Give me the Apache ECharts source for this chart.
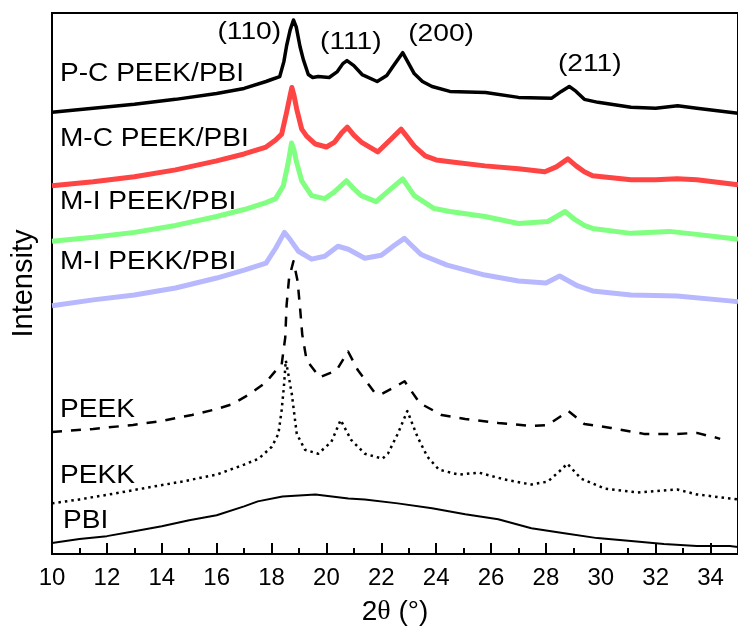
<!DOCTYPE html>
<html>
<head>
<meta charset="utf-8">
<script src="https://cdn.jsdelivr.net/npm/echarts@6/dist/echarts.min.js"></script>
<style>
  html, body { margin: 0; padding: 0; background: #fff; }
  #chart { width: 738px; height: 631px; }
</style>
</head>
<body>
<div id="chart"></div>
<script>
// XRD patterns, [2θ (°), intensity (a.u., stacked offsets included)]
const pcPeekPbi = [
  [10.0, 445], [11.5, 449], [13.0, 453], [14.5, 458], [16.0, 464], [17.0, 469],
  [17.8, 476], [18.0, 478], [18.3, 481], [18.45, 496], [18.55, 512], [18.68, 528],
  [18.8, 538], [18.9, 531], [19.04, 511], [19.16, 498], [19.34, 483], [19.5, 480],
  [19.7, 481], [20.1, 480], [20.4, 486], [20.6, 494], [20.75, 497], [21.0, 492],
  [21.3, 483], [21.85, 476], [22.2, 482], [22.45, 492], [22.78, 505], [23.0, 494],
  [23.2, 484], [23.5, 476], [23.85, 471], [24.5, 466], [25.8, 465], [27.0, 460],
  [28.2, 459], [28.56, 466], [28.85, 471], [29.1, 466], [29.4, 458], [29.9, 455],
  [31.1, 450], [32.0, 449], [32.8, 451.5], [33.5, 449], [34.7, 445], [35.0, 444]
];
const mcPeekPbi = [
  [10.0, 371], [11.5, 375], [13.0, 380], [14.5, 387], [16.0, 396], [17.0, 403],
  [17.8, 410], [18.15, 417], [18.37, 423], [18.55, 445], [18.67, 461], [18.74, 470],
  [18.82, 462], [18.92, 448], [19.1, 428], [19.28, 421], [19.6, 413], [20.0, 410],
  [20.3, 415], [20.55, 424], [20.76, 430], [21.0, 422], [21.27, 415], [21.87, 405],
  [22.36, 418], [22.72, 428], [22.95, 420], [23.2, 411], [23.6, 401], [24.0, 397],
  [24.58, 395], [25.78, 391], [27.0, 388], [27.96, 385], [28.38, 390], [28.8, 398],
  [29.1, 391], [29.4, 385], [29.7, 381], [31.1, 377], [32.0, 377], [32.78, 378],
  [33.5, 377], [34.7, 373], [35.0, 372]
];
const miPeekPbi = [
  [10.0, 315], [11.5, 319], [13.0, 324], [14.5, 331], [16.0, 340], [17.0, 347],
  [17.8, 354], [18.15, 358], [18.43, 371], [18.6, 393], [18.73, 414], [18.82, 407],
  [18.9, 396], [19.1, 376], [19.46, 361], [19.94, 358], [20.3, 365], [20.73, 376],
  [21.0, 368], [21.27, 361], [21.81, 355], [22.36, 368], [22.78, 378], [23.0, 369],
  [23.2, 361], [23.93, 348], [24.5, 345], [25.78, 340], [27.0, 333], [28.07, 335],
  [28.7, 345], [29.05, 337], [29.4, 331], [29.7, 328], [31.1, 323], [32.5, 325],
  [33.5, 322], [34.7, 318], [35.0, 317]
];
const miPekkPbi = [
  [10.0, 250], [11.5, 256], [13.0, 261], [14.5, 268], [16.0, 278], [17.0, 286],
  [17.8, 293], [18.15, 308], [18.47, 324], [18.7, 316], [18.98, 305], [19.46, 297],
  [19.94, 300], [20.42, 310], [20.8, 307], [21.4, 298], [22.0, 301], [22.48, 311],
  [22.84, 318], [23.1, 311], [23.44, 302], [23.6, 300], [24.4, 291], [25.78, 281],
  [27.0, 275], [28.0, 273], [28.5, 280], [29.16, 270], [29.7, 265], [31.1, 261],
  [32.78, 260], [34.7, 255], [35.0, 254]
];
const peek = [
  [10.0, 123], [11.5, 126], [12.95, 130], [14.0, 134], [15.1, 140], [16.0, 146],
  [16.57, 151], [17.2, 161], [17.8, 173], [18.1, 183], [18.37, 191], [18.5, 218],
  [18.55, 251], [18.64, 278], [18.8, 295], [18.95, 275], [19.04, 248], [19.12, 221],
  [19.28, 195], [19.76, 178], [20.37, 185], [20.79, 204], [21.15, 185], [21.75, 163],
  [22.0, 161], [22.48, 168], [22.85, 174], [23.4, 152], [24.2, 140], [25.06, 136],
  [26.26, 132], [27.47, 129], [28.07, 130], [28.82, 144], [29.4, 131], [30.37, 127],
  [31.57, 121], [32.78, 121], [33.5, 122], [34.23, 117], [34.35, 116]
];
const pekk = [
  [10.0, 51], [11.0, 55], [12.3, 61], [13.5, 67], [14.75, 73], [16.0, 80],
  [17.0, 90], [17.53, 96], [18.01, 108], [18.25, 121], [18.37, 145], [18.45, 168],
  [18.52, 195], [18.62, 180], [18.74, 161], [18.92, 121], [19.22, 105], [19.7, 101],
  [20.18, 113], [20.52, 135], [20.9, 115], [21.4, 101], [22.04, 96], [22.24, 101],
  [22.6, 121], [22.95, 144], [23.32, 118], [23.68, 98], [24.1, 85], [24.82, 80],
  [25.55, 82], [26.5, 75], [27.47, 70], [28.07, 73], [28.56, 85], [28.78, 91],
  [29.28, 76], [30.13, 66], [31.33, 62], [32.78, 65], [33.5, 60], [34.7, 56],
  [35.0, 55]
];
const pbi = [
  [10.0, 11], [11.0, 15], [12.0, 18], [13.0, 23], [14.0, 28], [15.0, 34],
  [16.0, 39], [17.0, 48], [17.5, 53], [18.4, 58], [19.6, 60], [20.8, 56],
  [21.4, 55], [22.6, 51], [23.85, 46], [25.06, 40], [26.26, 35], [27.47, 26],
  [28.67, 21], [29.87, 16], [31.1, 13], [32.3, 10], [33.5, 8], [34.7, 8], [35.0, 7]
];

const sampleNames = ['P-C PEEK/PBI', 'M-C PEEK/PBI', 'M-I PEEK/PBI', 'M-I PEKK/PBI', 'PEEK', 'PEKK', 'PBI'];
const peakNames = ['(110)', '(111)', '(200)', '(211)'];

const FONT = 'Liberation Sans, Arial, sans-serif';

const chart = echarts.init(document.getElementById('chart'), null, { renderer: 'canvas' });

const styles = [
  { color: '#000000', width: 3.5, type: 'solid' },
  { color: '#ff4444', width: 5, type: 'solid' },
  { color: '#80ff80', width: 5, type: 'solid' },
  { color: '#b8b8ff', width: 5, type: 'solid' },
  { color: '#000000', width: 2.5, type: [10, 9] },
  { color: '#000000', width: 2.5, type: [2.5, 4] },
  { color: '#000000', width: 2, type: 'solid' }
];
const seriesData = [pcPeekPbi, mcPeekPbi, miPeekPbi, miPekkPbi, peek, pekk, pbi];

chart.setOption({
  animation: false,
  backgroundColor: '#fff',
  grid: {
    left: 52, right: -4, top: 13, bottom: 73,
    show: true, borderColor: '#000', borderWidth: 2
  },
  xAxis: {
    type: 'value', min: 10, max: 35, interval: 2,
    name: '2{t|θ} (°)',
    nameLocation: 'middle', nameGap: 44,
    nameTextStyle: {
      fontFamily: FONT, fontSize: 28, color: '#000',
      rich: { t: { fontFamily: 'Liberation Serif, Times New Roman, serif', fontSize: 28, color: '#000' } }
    },
    axisLine: { show: true, onZero: false, lineStyle: { color: '#000', width: 2 } },
    axisTick: { show: true, inside: true, length: 11, lineStyle: { color: '#000', width: 2 } },
    minorTick: { show: true, splitNumber: 2, length: 6, lineStyle: { color: '#000', width: 2 } },
    axisLabel: { fontFamily: FONT, fontSize: 24, color: '#000', margin: 12, showMaxLabel: false },
    splitLine: { show: false }
  },
  yAxis: {
    type: 'value', min: 0, max: 545,
    name: 'Intensity',
    nameLocation: 'middle', nameGap: 14, nameRotate: 90,
    nameTextStyle: { fontFamily: FONT, fontSize: 29, color: '#000' },
    axisLine: { show: true, onZero: false, lineStyle: { color: '#000', width: 2 } },
    axisTick: { show: false },
    axisLabel: { show: false },
    splitLine: { show: false }
  },
  series: seriesData.map((d, i) => ({
    type: 'line',
    name: sampleNames[i],
    data: d,
    showSymbol: false,
    symbol: 'none',
    clip: true,
    z: 10 - i,
    lineStyle: { color: styles[i].color, width: styles[i].width, type: styles[i].type, cap: 'butt', join: 'round' },
    itemStyle: { color: styles[i].color }
  }))
});

// Annotation anchors in data coordinates [2θ, intensity]
const sampleLabelAnchors = [
  [10.29, 483.5], [10.29, 418], [10.29, 355], [10.29, 294], [10.29, 145.5], [10.29, 79], [10.4, 34]
];
const peakLabelAnchors = [[17.19, 525], [20.89, 515], [24.18, 523], [29.6, 493]];

const graphics = [];
sampleNames.forEach((name, i) => {
  const p = chart.convertToPixel({ gridIndex: 0 }, sampleLabelAnchors[i]);
  graphics.push({
    type: 'text', x: p[0], y: p[1], scaleX: 1.06, z: 100,
    style: { text: name, fontFamily: FONT, fontSize: 26.5, fill: '#000', align: 'left', verticalAlign: 'middle' }
  });
});
peakNames.forEach((name, i) => {
  const p = chart.convertToPixel({ gridIndex: 0 }, peakLabelAnchors[i]);
  graphics.push({
    type: 'text', x: p[0], y: p[1], scaleX: 1.2, z: 100,
    style: { text: name, fontFamily: FONT, fontSize: 23.5, fill: '#000', align: 'center', verticalAlign: 'middle' }
  });
});
chart.setOption({ graphic: graphics });
</script>
</body>
</html>
